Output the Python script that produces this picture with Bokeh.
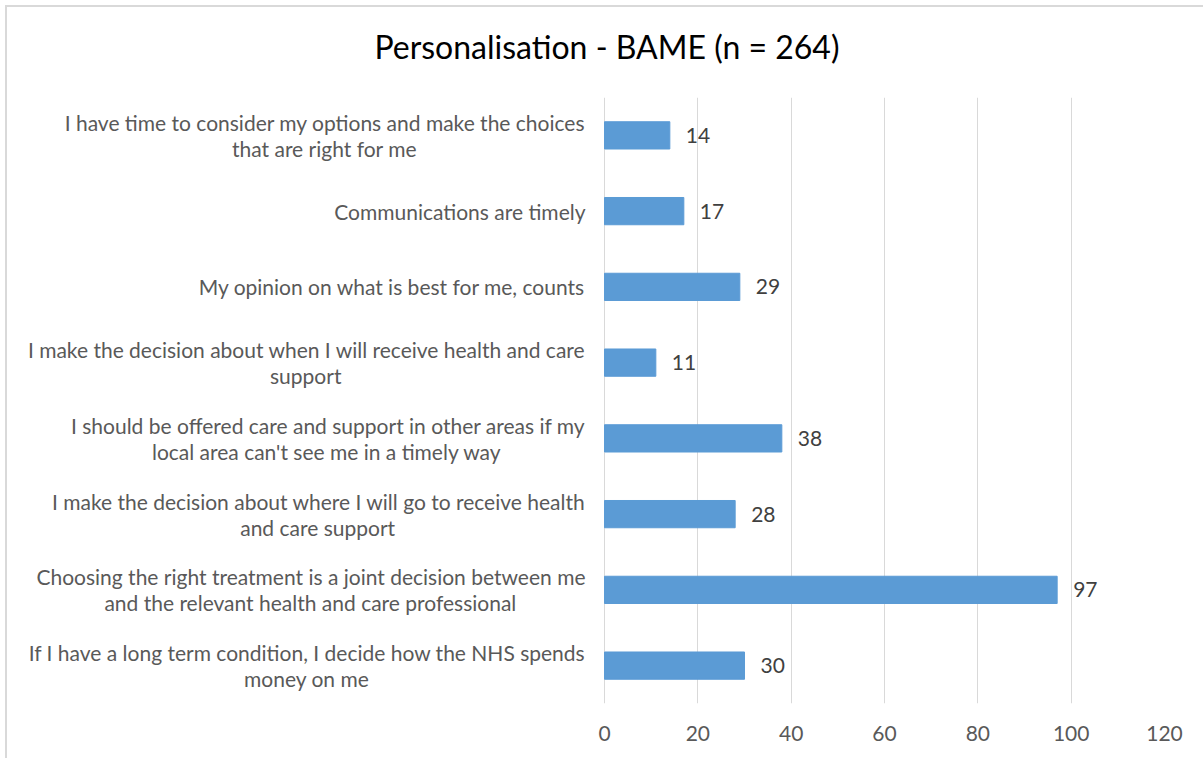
import os, glob, struct, subprocess
from bokeh.plotting import figure
from bokeh.models import FactorRange, Range1d, ColumnDataSource, FixedTicker, Title
from bokeh.core.properties import value
from bokeh.embed import file_html
from bokeh.resources import INLINE

categories = [
    "I have time to consider my options and make the choices\nthat are right for me",
    "Communications are timely",
    "My opinion on what is best for me, counts",
    "I make the decision about when I will receive health and care\nsupport",
    "I should be offered care and support in other areas if my\nlocal area can't see me in a timely way",
    "I make the decision about where I will go to receive health\nand care support",
    "Choosing the right treatment is a joint decision between me\nand the relevant health and care professional",
    "If I have a long term condition, I decide how the NHS spends\nmoney on me",
]
counts = [14, 17, 29, 11, 38, 28, 97, 30]
x_ticks = [0, 20, 40, 60, 80, 100, 120]
title_text = "Personalisation - BAME (n = 264)"

FONT = "Lato"
LABEL_PX = 21
TITLE_PX = 32


# ---------- text width measurement (Lato metrics, to centre wrapped lines) ----------
def _find_font():
    try:
        out = subprocess.run(["fc-match", "-f", "%{file}", "Lato:style=Regular"],
                             capture_output=True, text=True, timeout=5).stdout.strip()
        if out and os.path.exists(out):
            return out
    except Exception:
        pass
    for pat in ["/usr/share/fonts/**/Lato-Regular.ttf", "/usr/share/fonts/**/Lato*Reg*.*",
                "/usr/local/share/fonts/**/Lato-Regular.ttf"]:
        g = glob.glob(pat, recursive=True)
        if g:
            return g[0]
    return None


def _load_metrics(path):
    data = open(path, "rb").read()
    u16 = lambda o: struct.unpack(">H", data[o:o + 2])[0]
    u32 = lambda o: struct.unpack(">I", data[o:o + 4])[0]
    off = u32(12) if data[:4] == b"ttcf" else 0
    n = u16(off + 4)
    tables = {}
    for i in range(n):
        rec = off + 12 + 16 * i
        tables[data[rec:rec + 4].decode("latin1")] = u32(rec + 8)
    upem = u16(tables["head"] + 18)
    nhm = u16(tables["hhea"] + 34)
    hmtx = tables["hmtx"]
    adv = [u16(hmtx + 4 * i) for i in range(nhm)]
    cmap = tables["cmap"]
    nsub = u16(cmap + 2)
    sub = None
    for i in range(nsub):
        pid, eid = u16(cmap + 4 + 8 * i), u16(cmap + 6 + 8 * i)
        st = cmap + u32(cmap + 8 + 8 * i)
        if u16(st) == 4 and (pid, eid) in ((3, 1), (0, 3), (0, 4), (0, 1), (0, 0)):
            sub = st
            break
    segx2 = u16(sub + 6)
    seg = segx2 // 2
    ends = sub + 14
    starts = ends + segx2 + 2
    deltas = starts + segx2
    ro = deltas + segx2

    def gid(c):
        for s in range(seg):
            if c <= u16(ends + 2 * s):
                start = u16(starts + 2 * s)
                if c < start:
                    return 0
                d, r = u16(deltas + 2 * s), u16(ro + 2 * s)
                if r == 0:
                    return (c + d) & 0xFFFF
                g = u16(ro + 2 * s + r + 2 * (c - start))
                return (g + d) & 0xFFFF if g else 0
        return 0

    def width(text, size):
        tot = 0
        for ch in text:
            g = gid(ord(ch))
            tot += adv[min(g, nhm - 1)]
        return tot / upem * size
    return width


try:
    text_width = _load_metrics(_find_font())
except Exception:
    text_width = lambda t, s: len(t) * s * 0.47


# ---------- geometry ----------
OFF = 7
W, H = 1196, 751
FRAME_L, FRAME_R, FRAME_T, FRAME_B = OFF, 1164, 97, 703   # page px
PX = (FRAME_R - 604) / 120.0
x_start = -(604 - FRAME_L) / PX

p = figure(
    width=W, height=H,
    y_range=FactorRange(factors=list(reversed(categories))),
    x_range=Range1d(x_start, 120),
    y_axis_location=None,
    output_backend="svg", toolbar_location=None,
    min_border_left=FRAME_L - OFF, min_border_right=(W + OFF) - FRAME_R,
    min_border_top=FRAME_T - OFF, min_border_bottom=(H + OFF) - FRAME_B,
)
p.margin = (OFF, 0, 0, OFF)
p.outline_line_color = None
p.background_fill_color = "white"
p.border_fill_color = "white"
p.title.text = ""

# spacer between frame and title, then the title (left-aligned, offset so its centre is at x = 607 px)
p.add_layout(Title(text=" ", text_font=FONT, text_font_size="10px", standoff=13), "above")
tw = text_width(title_text, TITLE_PX)
p.add_layout(Title(text=title_text, align="left", offset=607 - tw / 2 - FRAME_L,
                   text_font=FONT, text_font_size=f"{TITLE_PX}px", text_font_style="normal",
                   text_color="#000000", vertical_align="bottom", standoff=10), "above")

# bars + value labels
src = ColumnDataSource(dict(cat=categories, val=counts, lab=[str(v) for v in counts]))
p.hbar(y="cat", right="val", left=0, height=0.36, source=src,
       fill_color="#5B9BD5", line_color="#5B9BD5")
p.text(x="val", y="cat", text="lab", source=src, x_offset=16,
       text_align="left", text_baseline="middle",
       text_font=value(FONT), text_font_size="21px", text_color="#404040")

# category labels: wrapped lines, centred on each other, block right-aligned
STANDOFF = 19
LINE_GAP = 26
l1_y, l1_t, l1_off, l1_yoff = [], [], [], []
l2_y, l2_t, l2_off, l2_yoff = [], [], [], []
for c in categories:
    lines = c.split("\n")
    w1 = text_width(lines[0], LABEL_PX)
    if len(lines) == 1:
        l1_y.append(c); l1_t.append(lines[0]); l1_off.append(-STANDOFF); l1_yoff.append(0)
    else:
        l1_y.append(c); l1_t.append(lines[0]); l1_off.append(-STANDOFF); l1_yoff.append(-LINE_GAP / 2)
        l2_y.append(c); l2_t.append(lines[1]); l2_off.append(-STANDOFF - w1 / 2); l2_yoff.append(LINE_GAP / 2)

s1 = ColumnDataSource(dict(y=l1_y, x=[0] * len(l1_y), t=l1_t, xo=l1_off, yo=l1_yoff))
s2 = ColumnDataSource(dict(y=l2_y, x=[0] * len(l2_y), t=l2_t, xo=l2_off, yo=l2_yoff))
p.text(x="x", y="y", text="t", x_offset="xo", y_offset="yo", source=s1,
       text_align="right", text_baseline="middle",
       text_font=value(FONT), text_font_size=f"{LABEL_PX}px", text_color="#595959")
p.text(x="x", y="y", text="t", x_offset="xo", y_offset="yo", source=s2,
       text_align="center", text_baseline="middle",
       text_font=value(FONT), text_font_size=f"{LABEL_PX}px", text_color="#595959")

# x axis
p.xaxis.ticker = FixedTicker(ticks=x_ticks)
p.xaxis.axis_line_color = None
p.xaxis.major_tick_line_color = None
p.xaxis.minor_tick_line_color = None
p.xaxis.major_tick_out = 0
p.xaxis.major_label_standoff = 22
p.xaxis.major_label_text_font = FONT
p.xaxis.major_label_text_font_size = "21px"
p.xaxis.major_label_text_color = "#595959"

p.xgrid.grid_line_color = "#D9D9D9"
p.xgrid.grid_line_width = 1
p.ygrid.grid_line_color = None

p.styles = {"outline": "2px solid #D9D9D9"}

open("out.html", "w").write(file_html(p, INLINE))
